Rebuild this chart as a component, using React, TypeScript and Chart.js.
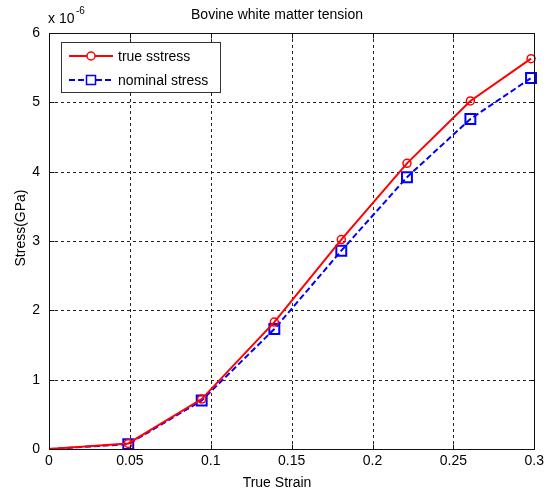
import React, { useEffect, useRef } from "react";
import { Chart, registerables } from "chart.js";

Chart.register(...registerables);

const strain = [0, 0.049, 0.0944, 0.1393, 0.1807, 0.2213, 0.2605, 0.298];
const trueStress = [0, 0.08, 0.72, 1.83, 3.02, 4.12, 5.02, 5.63];
const nominalStress = [0, 0.07, 0.7, 1.73, 2.86, 3.92, 4.76, 5.35];
const xTicks = [0, 0.05, 0.1, 0.15, 0.2, 0.25, 0.3];
const yTicks = [0, 1, 2, 3, 4, 5, 6];
const seriesLabels = ["true sstress", "nominal stress"];
const titleText = "Bovine white matter tension";
const xLabel = "True Strain";
const yLabel = "Stress(GPa)";

const FONT = "Liberation Sans, Arial, sans-serif";

const decorPlugin = {
  id: "decor",
  beforeDatasetsDraw(chart: any) {
    const { ctx, chartArea: a, scales } = chart;
    ctx.save();
    ctx.strokeStyle = "#222";
    ctx.lineWidth = 1;
    ctx.setLineDash([3, 3]);
    xTicks.forEach((v) => {
      const x = Math.round(scales.x.getPixelForValue(v)) + 0.5;
      if (v === xTicks[0] || v === xTicks[xTicks.length - 1]) return;
      ctx.beginPath();
      ctx.moveTo(x, a.top);
      ctx.lineTo(x, a.bottom);
      ctx.stroke();
    });
    yTicks.forEach((v) => {
      const y = Math.round(scales.y.getPixelForValue(v)) + 0.5;
      if (v === yTicks[0] || v === yTicks[yTicks.length - 1]) return;
      ctx.beginPath();
      ctx.moveTo(a.left, y);
      ctx.lineTo(a.right, y);
      ctx.stroke();
    });
    ctx.restore();
  },
  afterDatasetsDraw(chart: any) {
    const { ctx, chartArea: a, scales } = chart;
    ctx.save();
    ctx.setLineDash([]);
    ctx.strokeStyle = "#111";
    ctx.lineWidth = 1;
    const L = Math.round(a.left) + 0.5;
    const R = Math.round(a.right) + 0.5;
    const T = Math.round(a.top) + 0.5;
    const B = Math.round(a.bottom) + 0.5;
    ctx.strokeRect(L, T, R - L, B - T);
    const tl = 5;
    xTicks.forEach((v) => {
      const x = Math.round(scales.x.getPixelForValue(v)) + 0.5;
      ctx.beginPath();
      ctx.moveTo(x, B);
      ctx.lineTo(x, B - tl);
      ctx.moveTo(x, T);
      ctx.lineTo(x, T + tl);
      ctx.stroke();
    });
    yTicks.forEach((v) => {
      const y = Math.round(scales.y.getPixelForValue(v)) + 0.5;
      ctx.beginPath();
      ctx.moveTo(L, y);
      ctx.lineTo(L + tl, y);
      ctx.moveTo(R, y);
      ctx.lineTo(R - tl, y);
      ctx.stroke();
    });

    // legend
    const lx = 61.5, ly = 42.5, lw = 159, lh = 50;
    ctx.fillStyle = "#fff";
    ctx.fillRect(lx, ly, lw, lh);
    ctx.strokeStyle = "#333";
    ctx.strokeRect(lx, ly, lw, lh);
    const rows = [56, 80];
    const colors = ["#ff0000", "#0000ff"];
    rows.forEach((ry, i) => {
      ctx.strokeStyle = colors[i];
      ctx.lineWidth = 2;
      ctx.setLineDash(i === 0 ? [] : [6, 3]);
      ctx.beginPath();
      ctx.moveTo(69, ry);
      ctx.lineTo(113, ry);
      ctx.stroke();
      ctx.setLineDash([]);
      ctx.lineWidth = 1.5;
      ctx.fillStyle = "#fff";
      if (i === 0) {
        ctx.beginPath();
        ctx.arc(91, ry, 4, 0, Math.PI * 2);
        ctx.fill();
        ctx.stroke();
      } else {
        ctx.fillRect(86.5, ry - 4.5, 9, 9);
        ctx.strokeRect(86.5, ry - 4.5, 9, 9);
      }
      ctx.fillStyle = "#000";
      ctx.font = `14px ${FONT}`;
      ctx.textAlign = "left";
      ctx.textBaseline = "middle";
      ctx.fillText(seriesLabels[i], 118, ry + 1);
    });

    // title
    ctx.fillStyle = "#000";
    ctx.font = `14px ${FONT}`;
    ctx.textAlign = "center";
    ctx.textBaseline = "middle";
    ctx.fillText(titleText, 277, 15);
    // x label
    ctx.fillText(xLabel, 277, 483);
    // y label
    ctx.save();
    ctx.translate(21, 228);
    ctx.rotate(-Math.PI / 2);
    ctx.fillText(yLabel, 0, 0);
    ctx.restore();
    // exponent
    ctx.textAlign = "left";
    ctx.font = `14px ${FONT}`;
    ctx.fillText("x 10", 48, 19);
    ctx.font = `10px ${FONT}`;
    ctx.fillText("-6", 76, 11);
    ctx.restore();
  },
};

export default function App() {
  const ref = useRef<HTMLCanvasElement>(null);
  useEffect(() => {
    if (!ref.current) return;
    const chart = new Chart(ref.current, {
      type: "line",
      data: {
        datasets: [
          {
            label: seriesLabels[0],
            data: strain.map((x, i) => ({ x, y: trueStress[i] })),
            borderColor: "#ff0000",
            borderWidth: 2,
            pointStyle: "circle",
            pointRadius: strain.map((_, i) => (i === 0 ? 0 : 4)),
            pointBorderWidth: 1.5,
            pointBorderColor: "#ff0000",
            pointBackgroundColor: "rgba(0,0,0,0)",
            tension: 0,
            clip: false as any,
          },
          {
            label: seriesLabels[1],
            data: strain.map((x, i) => ({ x, y: nominalStress[i] })),
            borderColor: "#0000ff",
            borderWidth: 2,
            borderDash: [6, 3],
            pointStyle: "rect",
            pointRadius: strain.map((_, i) => (i === 0 ? 0 : 7)),
            pointBorderWidth: 2,
            pointBorderColor: "#0000ff",
            pointBackgroundColor: "rgba(0,0,0,0)",
            tension: 0,
            clip: false as any,
          },
        ],
      },
      options: {
        animation: false,
        responsive: false,
        layout: { padding: { top: 33, right: 11, left: 0, bottom: 0 } },
        plugins: { legend: { display: false }, tooltip: { enabled: false }, title: { display: false } },
        scales: {
          x: {
            type: "linear",
            min: 0,
            max: 0.3,
            afterFit: (s: any) => {
              s.height = 44;
            },
            afterBuildTicks: (s: any) => {
              s.ticks = xTicks.map((v) => ({ value: v }));
            },
            grid: { display: false, drawTicks: false },
            border: { display: false },
            ticks: {
              padding: 4,
              color: "#000",
              font: { family: FONT, size: 14 },
              callback: (v: any) => String(Number(v)),
              maxRotation: 0,
            },
          },
          y: {
            type: "linear",
            min: 0,
            max: 6,
            afterFit: (s: any) => {
              s.width = 49;
            },
            afterBuildTicks: (s: any) => {
              s.ticks = yTicks.map((v) => ({ value: v }));
            },
            grid: { display: false, drawTicks: false },
            border: { display: false },
            ticks: {
              padding: 9,
              color: "#000",
              font: { family: FONT, size: 14 },
              callback: (v: any) => String(Number(v)),
            },
          },
        },
      },
      plugins: [decorPlugin],
    });
    return () => chart.destroy();
  }, []);
  return (
    <div style={{ position: "absolute", left: 0, top: 0, width: 548, height: 493, background: "#fff" }}>
      <canvas ref={ref} width={548} height={493} style={{ width: 548, height: 493 }} />
    </div>
  );
}
